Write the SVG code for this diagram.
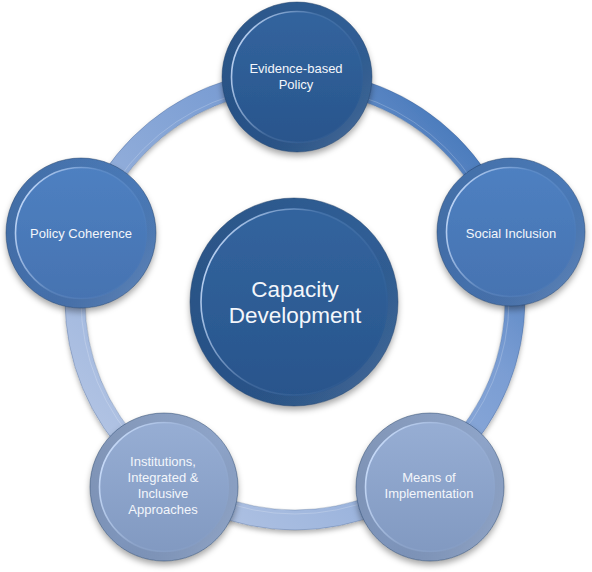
<svg xmlns="http://www.w3.org/2000/svg" width="592" height="572" viewBox="0 0 592 572">
<defs>
  <filter id="sh" x="-20%" y="-20%" width="140%" height="145%">
    <feDropShadow dx="0" dy="4" stdDeviation="3" flood-color="#000" flood-opacity="0.35"/>
  </filter>
  <filter id="shRing" x="-10%" y="-10%" width="120%" height="125%">
    <feDropShadow dx="0" dy="3" stdDeviation="2.5" flood-color="#000" flood-opacity="0.3"/>
  </filter>
  <linearGradient id="ringGrad" x1="0.9" y1="0.1" x2="0.1" y2="0.9">
    <stop offset="0" stop-color="#4678ba"/>
    <stop offset="0.3" stop-color="#7a9dd3"/>
    <stop offset="1" stop-color="#b4c5e4"/>
  </linearGradient>
  <linearGradient id="gDark" x1="0" y1="0" x2="0" y2="1">
    <stop offset="0" stop-color="#33659f"/>
    <stop offset="1" stop-color="#28548b"/>
  </linearGradient>
  <linearGradient id="gMid" x1="0" y1="0" x2="0" y2="1">
    <stop offset="0" stop-color="#4f81c2"/>
    <stop offset="1" stop-color="#4572b0"/>
  </linearGradient>
  <linearGradient id="gLight" x1="0" y1="0" x2="0" y2="1">
    <stop offset="0" stop-color="#98afd5"/>
    <stop offset="1" stop-color="#8098c0"/>
  </linearGradient>
  <linearGradient id="rim" x1="0" y1="0" x2="1" y2="1">
    <stop offset="0" stop-color="#000" stop-opacity="0.14"/>
    <stop offset="0.55" stop-color="#000" stop-opacity="0.04"/>
    <stop offset="1" stop-color="#fff" stop-opacity="0.18"/>
  </linearGradient>
  <linearGradient id="hl" x1="0" y1="0.3" x2="1" y2="0.7">
    <stop offset="0" stop-color="#cfe2ff" stop-opacity="0.9"/>
    <stop offset="0.45" stop-color="#cfe2ff" stop-opacity="0.12"/>
    <stop offset="1" stop-color="#cfe2ff" stop-opacity="0"/>
  </linearGradient>
  <style>
    .edge{fill:none;stroke:#1e3e66;stroke-opacity:0.45;stroke-width:1}
    .rim{fill:none;stroke:url(#rim)}
    .hl{fill:none;stroke:url(#hl);stroke-width:1.6}
    text{font-family:"Liberation Sans",Arial,sans-serif;fill:#f3f6fb;text-anchor:middle}
    .s{font-size:13px}
    .b{font-size:22.5px}
  </style>
</defs>

<g id="connectors">
  <circle cx="295" cy="300" r="220" fill="none" stroke="url(#ringGrad)" stroke-width="20" filter="url(#shRing)"/>
  <circle cx="295" cy="300" r="230" fill="none" stroke="#2a4a78" stroke-opacity="0.35" stroke-width="0.8"/>
  <circle cx="295" cy="300" r="210" fill="none" stroke="#2a4a78" stroke-opacity="0.3" stroke-width="0.8"/>
  <circle cx="295" cy="300" r="214" fill="none" stroke="#ffffff" stroke-opacity="0.25" stroke-width="0.8"/>
</g>

<g id="center">
  <circle cx="294" cy="302" r="104" fill="url(#gDark)" filter="url(#sh)"/>
  <circle cx="294" cy="302" r="99" class="rim" stroke-width="10"/>
  <circle cx="294" cy="302" r="93" class="hl"/>
  <circle cx="294" cy="302" r="104" class="edge"/>
  <text class="b" x="295" y="297">Capacity</text>
  <text class="b" x="295" y="323">Development</text>
</g>

<g id="n-evidence">
  <circle cx="297" cy="77" r="75" fill="url(#gDark)" filter="url(#sh)"/>
  <circle cx="297" cy="77" r="70.5" class="rim" stroke-width="9"/>
  <circle cx="297" cy="77" r="65.5" class="hl"/>
  <circle cx="297" cy="77" r="75" class="edge"/>
  <text class="s" x="296" y="73">Evidence-based</text>
  <text class="s" x="296" y="89">Policy</text>
</g>

<g id="n-social">
  <circle cx="511" cy="232" r="74" fill="url(#gMid)" filter="url(#sh)"/>
  <circle cx="511" cy="232" r="69.5" class="rim" stroke-width="9"/>
  <circle cx="511" cy="232" r="64.5" class="hl"/>
  <circle cx="511" cy="232" r="74" class="edge"/>
  <text class="s" x="511" y="238">Social Inclusion</text>
</g>

<g id="n-means">
  <circle cx="430" cy="487" r="74" fill="url(#gLight)" filter="url(#sh)"/>
  <circle cx="430" cy="487" r="69.5" class="rim" stroke-width="9"/>
  <circle cx="430" cy="487" r="64.5" class="hl"/>
  <circle cx="430" cy="487" r="74" class="edge"/>
  <text class="s" x="429" y="482">Means of</text>
  <text class="s" x="429" y="498">Implementation</text>
</g>

<g id="n-institutions">
  <circle cx="164" cy="487" r="74" fill="url(#gLight)" filter="url(#sh)"/>
  <circle cx="164" cy="487" r="69.5" class="rim" stroke-width="9"/>
  <circle cx="164" cy="487" r="64.5" class="hl"/>
  <circle cx="164" cy="487" r="74" class="edge"/>
  <text class="s" x="163" y="466">Institutions,</text>
  <text class="s" x="163" y="482">Integrated &amp;</text>
  <text class="s" x="163" y="498">Inclusive</text>
  <text class="s" x="163" y="514">Approaches</text>
</g>

<g id="n-coherence">
  <circle cx="81" cy="233" r="75" fill="url(#gMid)" filter="url(#sh)"/>
  <circle cx="81" cy="233" r="70.5" class="rim" stroke-width="9"/>
  <circle cx="81" cy="233" r="65.5" class="hl"/>
  <circle cx="81" cy="233" r="75" class="edge"/>
  <text class="s" x="81" y="238">Policy Coherence</text>
</g>
</svg>
